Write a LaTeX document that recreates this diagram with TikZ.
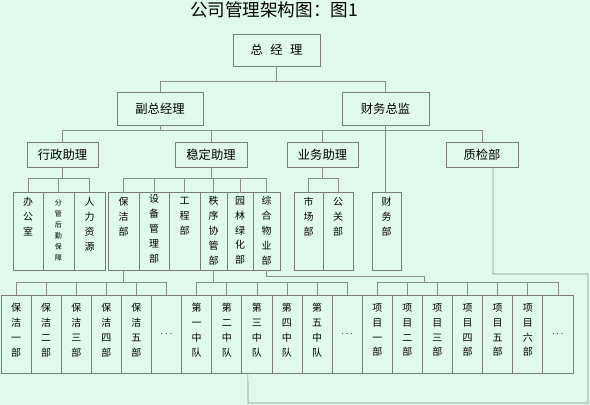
\documentclass[tikz,border=0pt]{standalone}
\usepackage{fontspec}
\setmainfont{Noto Sans CJK SC}
\newcommand{\pxl}{0.03cm}
\begin{document}
\begin{tikzpicture}[x=0.03cm, y=0.03cm,
    unit box/.style={draw=boxgray, line width=0.6pt, inner sep=0pt, outer sep=0pt},
    head box/.style={unit box, minimum height=33*\pxl, font=\fontsize{10.5}{12}\selectfont},
    dept box/.style={unit box, minimum height=78*\pxl},
    col text/.style={anchor=north, align=center, inner sep=0pt, font=\fontsize{8.5}{12.75}\selectfont},
    small text/.style={anchor=north, align=center, inner sep=0pt, font=\fontsize{6}{9.4}\selectfont},
    dots text/.style={font=\fontsize{8.5}{10}\selectfont},
    link/.style={draw=linegray, line width=0.6pt}]
    % Define the colors
    \definecolor{bgcolor}{RGB}{224, 250, 234}
    \definecolor{boxgray}{RGB}{120, 125, 122}
    \definecolor{linegray}{RGB}{135, 140, 137}

    \useasboundingbox[fill=bgcolor] (0,0) rectangle (590,-405);

    % Title
    \node[font=\fontsize{15}{18}\selectfont] (title) at (274,-10) {公司管理架构图：图1};

    % Top management
    \node[head box, minimum width=87*\pxl, minimum height=32*\pxl] (gm) at (276.5,-50) {总\hspace{0.6em}经\hspace{0.6em}理};
    \node[head box, minimum width=86*\pxl] (vgm) at (160,-108.5) {副总经理};
    \node[head box, minimum width=87*\pxl] (cfo) at (385.5,-108.5) {财务总监};

    % Assistants
    \node[head box, minimum width=71*\pxl, minimum height=25*\pxl] (xz) at (62.5,-154.5) {行政助理};
    \node[head box, minimum width=72*\pxl, minimum height=25*\pxl] (wd) at (211,-154.5) {稳定助理};
    \node[head box, minimum width=71*\pxl, minimum height=25*\pxl] (yw) at (322.5,-154.5) {业务助理};
    \node[head box, minimum width=72*\pxl, minimum height=25*\pxl] (zj) at (482,-154.5) {质检部};

    % Departments
    \node[dept box, minimum width=30*\pxl, label={[col text, yshift=-5*\pxl]north:{办\\公\\室}}] (bgs) at (28,-231) {};
    \node[dept box, minimum width=31*\pxl, label={[small text, yshift=-7*\pxl]north:{分\\管\\后\\勤\\保\\障}}] (hq) at (58.5,-231) {};
    \node[dept box, minimum width=31*\pxl, label={[col text, yshift=-5*\pxl]north:{人\\力\\资\\源}}] (rl) at (89.5,-231) {};
    \node[dept box, minimum width=31*\pxl, label={[col text, yshift=-5*\pxl]north:{保\\洁\\部}}] (bj) at (123.5,-231) {};
    \node[dept box, minimum width=30*\pxl, label={[col text, yshift=-2*\pxl]north:{设\\备\\管\\理\\部}}] (sb) at (154,-231) {};
    \node[dept box, minimum width=31*\pxl, label={[col text, yshift=-5*\pxl]north:{工\\程\\部}}] (gc) at (184.5,-231) {};
    \node[dept box, minimum width=27*\pxl, label={[col text, yshift=-4*\pxl]north:{秩\\序\\协\\管\\部}}] (zx) at (213.5,-231) {};
    \node[dept box, minimum width=26*\pxl, label={[col text, yshift=-4*\pxl]north:{园\\林\\绿\\化\\部}}] (yl) at (240,-231) {};
    \node[dept box, minimum width=27*\pxl, label={[col text, yshift=-4*\pxl]north:{综\\合\\物\\业\\部}}] (zh) at (266.5,-231) {};
    \node[dept box, minimum width=29*\pxl, label={[col text, yshift=-5*\pxl]north:{市\\场\\部}}] (sc) at (308.5,-231) {};
    \node[dept box, minimum width=30*\pxl, label={[col text, yshift=-5*\pxl]north:{公\\关\\部}}] (gg) at (338,-231) {};
    \node[dept box, minimum width=29*\pxl, label={[col text, yshift=-5*\pxl]north:{财\\务\\部}}] (cw) at (386.5,-231) {};

    % Cleaning teams
    \node[dept box, minimum width=30.1*\pxl, label={[col text, yshift=-8*\pxl]north:{保\\洁\\一\\部}}] (b1) at (16.05,-334) {};
    \node[dept box, minimum width=30.1*\pxl, label={[col text, yshift=-8*\pxl]north:{保\\洁\\二\\部}}] (b2) at (46.15,-334) {};
    \node[dept box, minimum width=30.1*\pxl, label={[col text, yshift=-8*\pxl]north:{保\\洁\\三\\部}}] (b3) at (76.25,-334) {};
    \node[dept box, minimum width=30.1*\pxl, label={[col text, yshift=-8*\pxl]north:{保\\洁\\四\\部}}] (b4) at (106.35,-334) {};
    \node[dept box, minimum width=30.1*\pxl, label={[col text, yshift=-8*\pxl]north:{保\\洁\\五\\部}}] (b5) at (136.45,-334) {};
    \node[dept box, minimum width=30.1*\pxl, dots text] (bx) at (166.55,-334) {$\cdots$};
    % Security squads
    \node[dept box, minimum width=30.1*\pxl, label={[col text, yshift=-8*\pxl]north:{第\\一\\中\\队}}] (d1) at (196.65,-334) {};
    \node[dept box, minimum width=30.1*\pxl, label={[col text, yshift=-8*\pxl]north:{第\\二\\中\\队}}] (d2) at (226.75,-334) {};
    \node[dept box, minimum width=30.1*\pxl, label={[col text, yshift=-8*\pxl]north:{第\\三\\中\\队}}] (d3) at (256.85,-334) {};
    \node[dept box, minimum width=30.1*\pxl, label={[col text, yshift=-8*\pxl]north:{第\\四\\中\\队}}] (d4) at (286.95,-334) {};
    \node[dept box, minimum width=30.1*\pxl, label={[col text, yshift=-8*\pxl]north:{第\\五\\中\\队}}] (d5) at (317.05,-334) {};
    \node[dept box, minimum width=30.1*\pxl, dots text] (dx) at (347.15,-334) {$\cdots$};
    % Project units
    \node[dept box, minimum width=30.1*\pxl, label={[col text, yshift=-8*\pxl]north:{项\\目\\一\\部}}] (x1) at (377.25,-334) {};
    \node[dept box, minimum width=30.1*\pxl, label={[col text, yshift=-8*\pxl]north:{项\\目\\二\\部}}] (x2) at (407.35,-334) {};
    \node[dept box, minimum width=30.1*\pxl, label={[col text, yshift=-8*\pxl]north:{项\\目\\三\\部}}] (x3) at (437.45,-334) {};
    \node[dept box, minimum width=30.1*\pxl, label={[col text, yshift=-8*\pxl]north:{项\\目\\四\\部}}] (x4) at (467.55,-334) {};
    \node[dept box, minimum width=30.1*\pxl, label={[col text, yshift=-8*\pxl]north:{项\\目\\五\\部}}] (x5) at (497.65,-334) {};
    \node[dept box, minimum width=30.1*\pxl, label={[col text, yshift=-8*\pxl]north:{项\\目\\六\\部}}] (x6) at (527.75,-334) {};
    \node[dept box, minimum width=30.1*\pxl, dots text] (xx) at (557.85,-334) {$\cdots$};

    % Connectors below the general manager
    \draw[link] (gm.south) -- ++(0,-15) -| (vgm.north);
    \draw[link] (gm.south) -- ++(0,-15) -| (cfo.north);

    % Connectors to the assistants
    \draw[link] (vgm.south) -- ++(0,-5) -| (xz.north);
    \draw[link] (vgm.south) -- ++(0,-5) -| (wd.north);
    \draw[link] (vgm.south) -- ++(0,-5) -| (yw.north);
    \draw[link] (vgm.south) -- ++(0,-5) -| (zj.north);
    \draw[link] (cfo.south) -- (cfo.south |- cw.north);

    % Connectors to the departments
    \draw[link] (xz.south) -- ++(0,-11) -| (bgs.north);
    \draw[link] (xz.south) -- ++(0,-11) -| (hq.north);
    \draw[link] (xz.south) -- ++(0,-11) -| (rl.north);
    \draw[link] (wd.south) -- ++(0,-11) -| (bj.north);
    \draw[link] (wd.south) -- ++(0,-11) -| (sb.north);
    \draw[link] (wd.south) -- ++(0,-11) -| (gc.north);
    \draw[link] (wd.south) -- ++(0,-11) -| (zx.north);
    \draw[link] (wd.south) -- ++(0,-11) -| (yl.north);
    \draw[link] (wd.south) -- ++(0,-11) -| (zh.north);
    \draw[link] (yw.south) -- ++(0,-11) -| (sc.north);
    \draw[link] (yw.south) -- ++(0,-11) -| (gg.north);

    % Connectors to the cleaning teams
    \draw[link] (bj.south) -- ++(0,-12) -| (b1.north);
    \draw[link] (bj.south) -- ++(0,-12) -| (b2.north);
    \draw[link] (bj.south) -- ++(0,-12) -| (b3.north);
    \draw[link] (bj.south) -- ++(0,-12) -| (b4.north);
    \draw[link] (bj.south) -- ++(0,-12) -| (b5.north);
    \draw[link] (bj.south) -- ++(0,-12) -| (bx.north);

    % Connectors to the security squads
    \draw[link] (zx.south) -- ++(0,-12) -| (d1.north);
    \draw[link] (zx.south) -- ++(0,-12) -| (d2.north);
    \draw[link] (zx.south) -- ++(0,-12) -| (d3.north);
    \draw[link] (zx.south) -- ++(0,-12) -| (d4.north);
    \draw[link] (zx.south) -- ++(0,-12) -| (d5.north);
    \draw[link] (zx.south) -- ++(0,-12) -| (dx.north);

    % Connectors to the project units
    \coordinate (xmk) at (424,-276);
    \coordinate (xmj) at (424,-282);
    \draw[link] (zh.south) |- (xmk) -- (xmj);
    \draw[link] (xmj) -| (x1.north);
    \draw[link] (xmj) -| (x2.north);
    \draw[link] (xmj) -| (x3.north);
    \draw[link] (xmj) -| (x4.north);
    \draw[link] (xmj) -| (x5.north);
    \draw[link] (xmj) -| (x6.north);
    \draw[link] (xmj) -| (xx.north);

    % Quality inspection loop
    \coordinate (qr) at (588,-274);
    \coordinate (qb) at (248,-403);
    \draw[link] ([xshift=11*\pxl]zj.south) |- (qr) |- (qb) -- ([xshift=-9*\pxl]d3.south);
\end{tikzpicture}
\end{document}
